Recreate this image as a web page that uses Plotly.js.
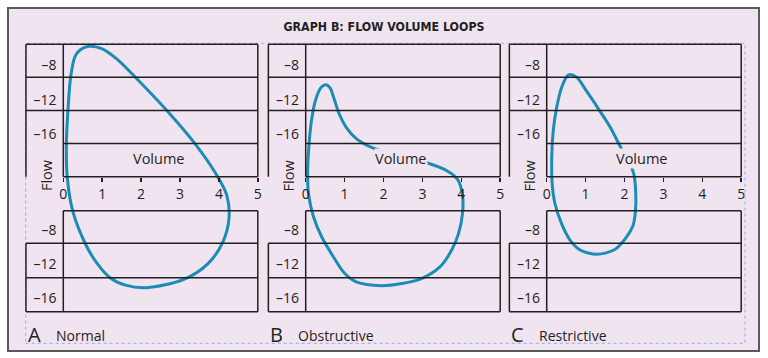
<!DOCTYPE html>
<html>
<head>
<meta charset="utf-8">
<script src="https://cdn.plot.ly/plotly-3.0.1.min.js"></script>
<style>html,body{margin:0;padding:0;background:#fff;}#chart{width:768px;height:358px;}</style>
</head>
<body>
<div id="chart"></div>
<script>
// ---------- data ----------
const chartTitle = 'GRAPH B: FLOW VOLUME LOOPS';
const panelLetters = ['A', 'B', 'C'];
const panelNames = ['Normal', 'Obstructive', 'Restrictive'];
const volumeTicks = [0, 1, 2, 3, 4, 5];
const flowTickVals = [13.5, 9.3, 5.1, -6.4, -10.5, -14.7];
const flowTickText = ['\u20138', '\u201312', '\u201316', '\u20138', '\u201312', '\u201316'];
const upperRowLines = [16, 12, 8, 4, 0];
const lowerRowLines = [-4.1, -8.05, -12.2, -16.3];

const normalVolume = [2.14, 1.6, 1.2, 0.86, 0.56, 0.24, 0.1, 0.08, 0.12, 0.19, 0.3, 0.43, 0.66, 1.0, 1.38, 1.84, 2.65, 3.38, 3.97, 4.2, 4.26, 4.1, 3.72, 3.1, 2.14];
const normalFlow   = [-13.4, -13.1, -12.2, -10.42, -8.04, -4.1, 0, 4.07, 8.06, 12.08, 14.5, 15.3, 15.75, 15.45, 14.21, 12.08, 8.06, 4.03, 0, -2.2, -5.0, -7.9, -10.5, -12.4, -13.4];

const obstructiveVolume = [1.95, 1.3, 1.0, 0.71, 0.41, 0.2, 0.07, 0.05, 0.08, 0.14, 0.25, 0.4, 0.52, 0.63, 0.73, 0.86, 1.05, 1.3, 1.62, 1.9, 2.55, 3.15, 3.63, 3.9, 4.03, 4.03, 3.93, 3.76, 3.45, 2.98, 2.47, 1.95];
const obstructiveFlow   = [-13.16, -12.7, -11.67, -9.66, -7.25, -4.83, -2.0, 0.5, 3.5, 6.5, 9.2, 10.8, 11.1, 10.7, 9.4, 7.6, 5.9, 4.6, 3.7, 3.2, 2.38, 1.62, 0.72, -0.3, -2.2, -4.5, -6.84, -8.8, -10.9, -12.3, -12.9, -13.16];

const restrictiveVolume = [1.29, 0.86, 0.6, 0.38, 0.21, 0.14, 0.13, 0.17, 0.26, 0.39, 0.56, 0.77, 1.03, 1.33, 1.63, 1.93, 2.12, 2.24, 2.29, 2.28, 2.22, 2.05, 1.75, 1.29];
const restrictiveFlow   = [-9.37, -8.85, -7.65, -5.63, -3.21, -0.8, 2.42, 5.64, 8.45, 10.87, 12.3, 12.0, 10.3, 8.2, 6.0, 3.3, 1.8, 0.3, -2.0, -4.2, -5.9, -7.3, -8.8, -9.37];

const loopVolumes = [normalVolume, obstructiveVolume, restrictiveVolume];
const loopFlows = [normalFlow, obstructiveFlow, restrictiveFlow];

// ---------- layout helpers ----------
const W = 768, H = 358;
const BG = '#f0e4f0';
const INK = '#231f20';
const LOOP = '#1b8cb6';
const FONT = '"Open Sans", "Noto Sans", sans-serif';
const axisPx = [63.3, 305.7, 546.7];   // pixel x of the flow axis of each panel
const pxPerVol = 38.9;
const xRange = [-1.0, 5.05];
const yRange = [-16.6, 16.3];
const zeroPy = 176.7, pxPerFlow = 8.28;
const leftEdge = -0.96;

const traces = [];
const shapes = [];
const annotations = [];
const layout = {
  width: W, height: H,
  margin: {l: 0, r: 0, t: 0, b: 0, pad: 0},
  paper_bgcolor: '#ffffff',
  plot_bgcolor: 'rgba(0,0,0,0)',
  showlegend: false,
  hovermode: false,
  title: {
    text: chartTitle,
    font: {family: '"DejaVu Sans Condensed", "Liberation Sans Narrow", sans-serif', size: 12.3, color: INK, weight: 'bold'},
    x: 0.5, xanchor: 'center', xref: 'paper',
    y: 1 - 27 / H, yanchor: 'middle', yref: 'paper'
  }
};

// outer frame and dotted guide
shapes.push({type: 'rect', xref: 'paper', yref: 'paper', layer: 'below',
  x0: 8 / W, x1: 759 / W, y0: 1 - 351 / H, y1: 1 - 8 / H,
  fillcolor: BG, line: {color: '#5a5a5a', width: 2}});
shapes.push({type: 'rect', xref: 'paper', yref: 'paper', layer: 'above',
  x0: 25.7 / W, x1: 745 / W, y0: 1 - 343.3 / H, y1: 1 - 43.3 / H,
  line: {color: '#8cafe8', width: 1, dash: 'dot'}});

const yTopPx = zeroPy - yRange[1] * pxPerFlow;
const yBotPx = zeroPy - yRange[0] * pxPerFlow;

for (let i = 0; i < 3; i++) {
  const sfx = i === 0 ? '' : String(i + 1);
  const xa = 'x' + sfx, ya = 'y' + sfx;
  const d0 = (axisPx[i] + xRange[0] * pxPerVol) / W;
  const d1 = (axisPx[i] + xRange[1] * pxPerVol) / W;

  layout['xaxis' + sfx] = {
    domain: [d0, d1], range: xRange, anchor: 'free', position: 1 - zeroPy / H,
    tickvals: volumeTicks, ticktext: volumeTicks.map(String),
    ticks: 'outside', ticklen: 4, tickwidth: 1.5, tickcolor: INK,
    showline: false, showgrid: false, zeroline: false, fixedrange: true,
    tickfont: {family: FONT, size: 14, color: INK}
  };
  layout['yaxis' + sfx] = {
    domain: [1 - yBotPx / H, 1 - yTopPx / H], range: yRange,
    anchor: 'free', position: axisPx[i] / W,
    tickvals: flowTickVals, ticktext: flowTickText,
    ticks: 'outside', ticklen: 4, tickcolor: 'rgba(0,0,0,0)',
    showline: false, showgrid: false, zeroline: false, fixedrange: true,
    tickfont: {family: FONT, size: 14, color: INK}
  };

  const ln = {color: INK, width: 1.5};
  // horizontal cell lines
  upperRowLines.forEach(v => {
    const x0 = (v === 4 || v === 0) ? 0 : leftEdge;
    shapes.push({type: 'line', xref: xa, yref: ya, x0: x0, x1: 5, y0: v, y1: v, line: ln});
  });
  lowerRowLines.forEach((v, k) => {
    const x0 = k === 0 ? 0 : leftEdge;
    shapes.push({type: 'line', xref: xa, yref: ya, x0: x0, x1: 5, y0: v, y1: v, line: ln});
  });
  // vertical cell lines
  const uTop = upperRowLines[0], uBot = upperRowLines[upperRowLines.length - 1];
  const lTop = lowerRowLines[0], lBot = lowerRowLines[lowerRowLines.length - 1];
  shapes.push({type: 'line', xref: xa, yref: ya, x0: leftEdge, x1: leftEdge, y0: uBot, y1: uTop, line: ln});
  shapes.push({type: 'line', xref: xa, yref: ya, x0: leftEdge, x1: leftEdge, y0: lBot, y1: lowerRowLines[1], line: ln});
  [0, 5].forEach(xv => {
    shapes.push({type: 'line', xref: xa, yref: ya, x0: xv, x1: xv, y0: uBot, y1: uTop, line: ln});
    shapes.push({type: 'line', xref: xa, yref: ya, x0: xv, x1: xv, y0: lBot, y1: lTop, line: ln});
  });

  traces.push({
    type: 'scatter', mode: 'lines', xaxis: xa, yaxis: ya,
    x: loopVolumes[i], y: loopFlows[i],
    line: {color: LOOP, width: 3, shape: 'spline', smoothing: 0.85},
    hoverinfo: 'skip'
  });

  annotations.push({xref: xa, yref: ya, x: 2.45, y: 2.25, text: 'Volume', showarrow: false,
    bgcolor: BG, borderpad: 0, font: {family: FONT, size: 14.5, color: INK}});
  annotations.push({xref: xa, yref: ya, x: -0.445, y: 0.2, text: 'Flow', showarrow: false,
    textangle: -90, font: {family: FONT, size: 14.5, color: INK}});
  annotations.push({xref: xa, yref: 'paper', x: leftEdge, xanchor: 'left', y: 1 - 334 / H, yanchor: 'middle',
    text: panelLetters[i], showarrow: false, font: {family: FONT, size: 20, color: INK}});
  annotations.push({xref: xa, yref: 'paper', x: -0.24, xanchor: 'left', y: 1 - 335.5 / H, yanchor: 'middle',
    text: panelNames[i], showarrow: false, font: {family: FONT, size: 14, color: INK}});
}

layout.shapes = shapes;
layout.annotations = annotations;

Plotly.newPlot('chart', traces, layout, {staticPlot: true, displayModeBar: false});
</script>
</body>
</html>
